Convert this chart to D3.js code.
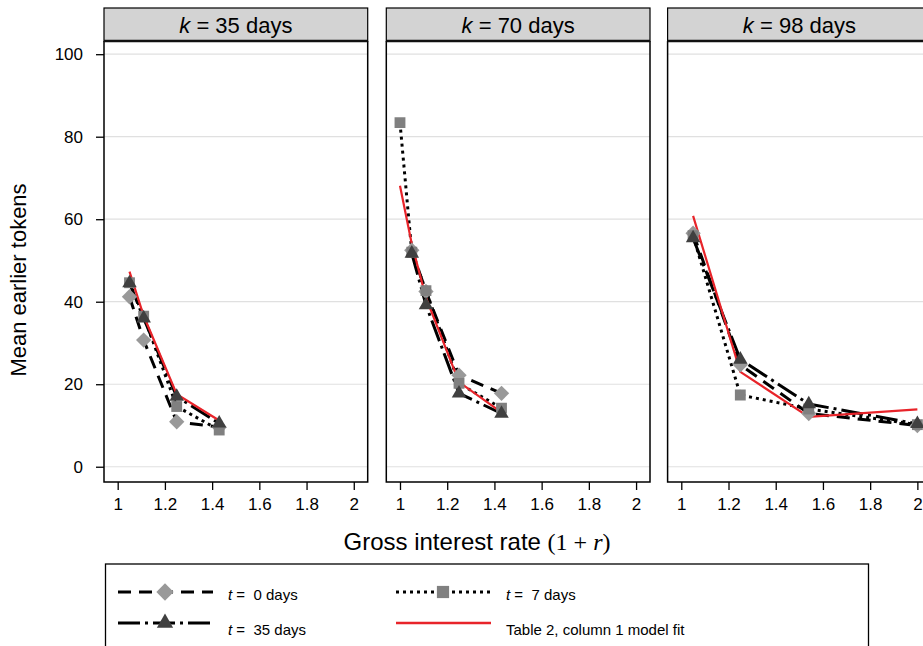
<!DOCTYPE html>
<html>
<head>
<meta charset="utf-8">
<script src="https://cdn.jsdelivr.net/npm/d3@7"></script>
<style>
  body { margin: 0; background: #fff; }
  text { font-family: "Liberation Sans", Arial, sans-serif; }
</style>
</head>
<body>
<script>
// horizons k (days) and the gross interest rates offered in each
var horizons = [35, 70, 98];
var rates35 = [1.05, 1.11, 1.25, 1.43];
var rates70 = [1.00, 1.05, 1.11, 1.25, 1.43];
var rates98 = [1.05, 1.25, 1.54, 2.00];

// mean earlier tokens, by start date t
var t0_k35 = [41.2, 30.7, 10.9, 9.6];
var t7_k35 = [44.6, 36.5, 14.6, 8.9];
var t35_k35 = [44.5, 36.0, 17.0, 10.5];
var t0_k70 = [null, 52.5, 42.5, 22.2, 17.8];
var t7_k70 = [83.4, 52.0, 42.7, 20.2, 14.2];
var t35_k70 = [null, 51.7, 39.2, 17.8, 12.9];
var t0_k98 = [56.6, 24.7, 12.9, 10.0];
var t7_k98 = [56.0, 17.4, 14.0, 10.2];
var t35_k98 = [55.4, 26.0, 15.2, 10.4];

// Table 2, column 1 model fit
var fit_k35 = [47.3, 36.6, 17.6, 11.2];
var fit_k70 = [68.1, 54.0, 41.0, 20.5, 13.2];
var fit_k98 = [60.8, 23.0, 12.1, 13.9];

var xTicks = [1, 1.2, 1.4, 1.6, 1.8, 2];
var yTicks = [0, 20, 40, 60, 80, 100];

var panelData = [
  {k: 35, rates: rates35, t0: t0_k35, t7: t7_k35, t35: t35_k35, fit: fit_k35},
  {k: 70, rates: rates70, t0: t0_k70, t7: t7_k70, t35: t35_k70, fit: fit_k70},
  {k: 98, rates: rates98, t0: t0_k98, t7: t7_k98, t35: t35_k98, fit: fit_k98}
];

var width = 923, height = 646;
var panelW = 263.7, panelH = 441, panelTop = 41, stripH = 33;
var panelLefts = [104, 386.3, 667.6];

var svg = d3.select("body").append("svg")
    .attr("width", width)
    .attr("height", height);

var x = d3.scaleLinear().domain([0.942, 2.059]).range([0, panelW]);
var y = d3.scaleLinear().domain([-3.7, 103.2]).range([panelH, 0]);

var styles = {
  t0: {dash: "13,8", fill: "#999999", shape: d3.symbolDiamond2, size: 150},
  t7: {dash: "3,4", fill: "#808080", shape: d3.symbolSquare2, size: 150},
  t35: {dash: "22,5,3,5", fill: "#404040", shape: d3.symbolTriangle2, size: 150}
};

panelData.forEach(function(p, i) {
  var g = svg.append("g").attr("transform", "translate(" + panelLefts[i] + "," + panelTop + ")");

  g.append("rect").attr("width", panelW).attr("height", panelH).attr("fill", "#fff");

  g.selectAll(".grid").data(yTicks).enter().append("line")
      .attr("x1", 0).attr("x2", panelW)
      .attr("y1", function(d){ return y(d); })
      .attr("y2", function(d){ return y(d); })
      .attr("stroke", "#e0e0e0").attr("stroke-width", 1.2);

  var clip = "clip" + i;
  svg.append("clipPath").attr("id", clip)
    .append("rect").attr("width", panelW).attr("height", panelH);
  var plot = g.append("g").attr("clip-path", "url(#" + clip + ")");

  var line = d3.line()
      .defined(function(d){ return d[1] != null; })
      .x(function(d){ return x(d[0]); })
      .y(function(d){ return y(d[1]); });

  ["t0", "t7", "t35"].forEach(function(s) {
    var pts = p.rates.map(function(r, j){ return [r, p[s][j]]; });
    plot.append("path")
        .datum(pts.filter(function(d){ return d[1] != null; }))
        .attr("d", line)
        .attr("fill", "none")
        .attr("stroke", "#000")
        .attr("stroke-width", 3)
        .attr("stroke-dasharray", styles[s].dash);
  });

  plot.append("path")
      .datum(p.rates.map(function(r, j){ return [r, p.fit[j]]; }))
      .attr("d", line)
      .attr("fill", "none")
      .attr("stroke", "#e8242a")
      .attr("stroke-width", 2.2);

  ["t0", "t7", "t35"].forEach(function(s) {
    var pts = p.rates.map(function(r, j){ return [r, p[s][j]]; })
        .filter(function(d){ return d[1] != null; });
    plot.selectAll(".m" + s).data(pts).enter().append("path")
        .attr("transform", function(d){ return "translate(" + x(d[0]) + "," + y(d[1]) + ")"; })
        .attr("d", d3.symbol().type(styles[s].shape).size(styles[s].size))
        .attr("fill", styles[s].fill);
  });

  // frame
  g.append("path")
      .attr("d", "M0,0V" + panelH + "H" + panelW + "V0")
      .attr("fill", "none").attr("stroke", "#000").attr("stroke-width", 1.5);

  // strip
  g.append("rect")
      .attr("x", 0).attr("y", -stripH)
      .attr("width", panelW).attr("height", stripH)
      .attr("fill", "#d3d3d3").attr("stroke", "#000").attr("stroke-width", 1.2);
  g.append("line").attr("x1", 0).attr("x2", panelW).attr("y1", 0).attr("y2", 0)
      .attr("stroke", "#111").attr("stroke-width", 2.5);
  var st = g.append("text")
      .attr("x", panelW / 2).attr("y", -stripH / 2 + 8)
      .attr("text-anchor", "middle")
      .style("font-size", "22px");
  st.append("tspan").style("font-style", "italic").text("k");
  st.append("tspan").text(" = " + p.k + " days");

  // x axis
  var xa = g.append("g").attr("transform", "translate(0," + panelH + ")")
      .call(d3.axisBottom(x).tickValues(xTicks).tickSize(8).tickPadding(8)
        .tickFormat(function(d){ return d3.format("~g")(d); }));
  xa.select(".domain").remove();
  xa.selectAll("line").attr("stroke-width", 1.3);
  xa.selectAll("text").style("font-size", "17px")
      .style("font-family", "Liberation Sans, Arial, sans-serif");

  if (i === 0) {
    var ya = g.append("g")
        .call(d3.axisLeft(y).tickValues(yTicks).tickSize(8).tickPadding(13));
    ya.select(".domain").remove();
    ya.selectAll("line").attr("stroke-width", 1.3);
    ya.selectAll("text").style("font-size", "17px")
        .style("font-family", "Liberation Sans, Arial, sans-serif");
  }
});

// axis titles
svg.append("text")
    .attr("transform", "translate(26,280) rotate(-90)")
    .attr("text-anchor", "middle")
    .style("font-size", "22px")
    .text("Mean earlier tokens");

var xt = svg.append("text")
    .attr("x", 477).attr("y", 550)
    .attr("text-anchor", "middle")
    .style("font-size", "24px");
xt.append("tspan").text("Gross interest rate ");
xt.append("tspan").style("font-family", "Liberation Serif, serif").text("(1 + ");
xt.append("tspan").style("font-family", "Liberation Serif, serif").style("font-style", "italic").text("r");
xt.append("tspan").style("font-family", "Liberation Serif, serif").text(")");

// legend
var leg = svg.append("g");
leg.append("rect")
    .attr("x", 105.5).attr("y", 564)
    .attr("width", 763).attr("height", 100)
    .attr("fill", "#fff").attr("stroke", "#000").attr("stroke-width", 1.3);

var legendItems = [
  {key: "t0", x: 118, y: 592, label: ["t", " =  0 days"]},
  {key: "t7", x: 396, y: 592, label: ["t", " =  7 days"]},
  {key: "t35", x: 118, y: 623, label: ["t", " =  35 days"]},
  {key: "fit", x: 396, y: 623, label: ["", "Table 2, column 1 model fit"]}
];

legendItems.forEach(function(it) {
  if (it.key === "fit") {
    leg.append("line")
        .attr("x1", it.x).attr("x2", it.x + 95)
        .attr("y1", it.y).attr("y2", it.y)
        .attr("stroke", "#e8242a").attr("stroke-width", 2.5);
  } else {
    leg.append("line")
        .attr("x1", it.x).attr("x2", it.x + 95)
        .attr("y1", it.y).attr("y2", it.y)
        .attr("stroke", "#000").attr("stroke-width", 3)
        .attr("stroke-dasharray", styles[it.key].dash);
    leg.append("path")
        .attr("transform", "translate(" + (it.x + 47) + "," + it.y + ")")
        .attr("d", d3.symbol().type(styles[it.key].shape).size(190))
        .attr("fill", styles[it.key].fill);
  }
  var tx = leg.append("text")
      .attr("x", it.x + 110).attr("y", it.y + (it.key === "t0" || it.key === "t7" ? 8 : 12))
      .style("font-size", "15px")
      .style("white-space", "pre");
  if (it.label[0]) {
    tx.append("tspan").style("font-style", "italic").text(it.label[0]);
  }
  tx.append("tspan").text(it.label[1]);
});
</script>
</body>
</html>
